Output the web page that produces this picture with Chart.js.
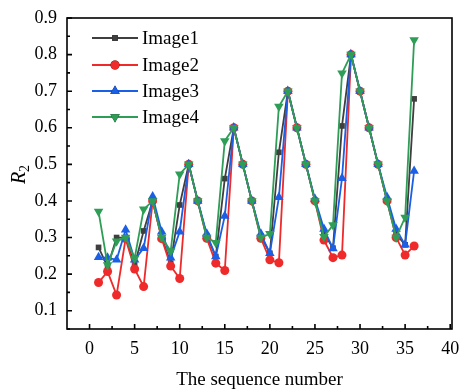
<!DOCTYPE html>
<html>
<head>
<meta charset="utf-8">
<script src="https://cdn.jsdelivr.net/npm/chart.js@4"></script>
<style>
  html, body { margin: 0; padding: 0; background: #fff; }
  #wrap { width: 460px; height: 391px; }
</style>
</head>
<body>
<div id="wrap"><canvas id="chart" width="460" height="391"></canvas></div>
<script>
// --- Data ---
const seqNumbers = Array.from({ length: 36 }, (_, i) => i + 1);
const image1 = [0.273, 0.22, 0.30, 0.30, 0.225, 0.318, 0.40, 0.30, 0.23, 0.389, 0.50, 0.40,
                0.305, 0.248, 0.461, 0.60, 0.50, 0.40, 0.304, 0.257, 0.533, 0.70, 0.60, 0.50,
                0.40, 0.312, 0.271, 0.605, 0.80, 0.70, 0.60, 0.50, 0.40, 0.31, 0.28, 0.679];
const image2 = [0.177, 0.207, 0.143, 0.297, 0.214, 0.166, 0.40, 0.297, 0.222, 0.188, 0.50, 0.40,
                0.298, 0.23, 0.21, 0.60, 0.50, 0.40, 0.298, 0.239, 0.231, 0.70, 0.60, 0.50,
                0.40, 0.293, 0.245, 0.252, 0.80, 0.70, 0.60, 0.50, 0.40, 0.30, 0.252, 0.277];
const image3 = [0.246, 0.245, 0.239, 0.321, 0.239, 0.271, 0.412, 0.316, 0.245, 0.316, 0.50, 0.40,
                0.31, 0.248, 0.359, 0.60, 0.50, 0.40, 0.31, 0.257, 0.41, 0.70, 0.60, 0.50,
                0.405, 0.323, 0.27, 0.462, 0.80, 0.70, 0.60, 0.50, 0.41, 0.323, 0.28, 0.482];
const image4 = [0.371, 0.225, 0.29, 0.30, 0.243, 0.377, 0.40, 0.30, 0.263, 0.473, 0.50, 0.40,
                0.30, 0.286, 0.564, 0.60, 0.50, 0.40, 0.30, 0.31, 0.658, 0.70, 0.60, 0.50,
                0.40, 0.302, 0.334, 0.749, 0.80, 0.70, 0.60, 0.50, 0.40, 0.30, 0.355, 0.84];

const xMajorTicks = [0, 5, 10, 15, 20, 25, 30, 35, 40];
const yMajorTicks = [0.1, 0.2, 0.3, 0.4, 0.5, 0.6, 0.7, 0.8, 0.9];
const seriesNames = ['Image1', 'Image2', 'Image3', 'Image4'];

const FONT = '"Liberation Serif", "Times New Roman", serif';
const COLORS = ['#3f3f3f', '#ee2a2a', '#1a5fe6', '#2e9e57'];
const POINT_STYLES = ['rect', 'circle', 'triangle', 'triangle'];
const POINT_ROT = [0, 0, 0, 180];
const POINT_RAD = [4, 4.5, 5.5, 5.5];

const seriesData = [image1, image2, image3, image4];

const datasets = seriesData.map((vals, i) => ({
    label: seriesNames[i],
    data: seqNumbers.map((x, j) => ({ x: x, y: vals[j] })),
    borderColor: COLORS[i],
    backgroundColor: COLORS[i],
    borderWidth: 1.8,
    pointStyle: POINT_STYLES[i],
    pointRotation: POINT_ROT[i],
    pointRadius: POINT_RAD[i],
    pointBorderWidth: 0,
    order: 4 - i
}));

// Draws the frame, inward ticks, the R2 axis title and the inset legend
const framePlugin = {
    id: 'frame',
    afterDraw(chart) {
        const ctx = chart.ctx;
        const { left, right, top, bottom } = chart.chartArea;
        const xs = chart.scales.x, ys = chart.scales.y;
        ctx.save();
        ctx.strokeStyle = '#000';
        ctx.lineWidth = 1.6;

        // ticks
        ctx.beginPath();
        xMajorTicks.forEach(v => {
            const px = xs.getPixelForValue(v);
            ctx.moveTo(px, bottom); ctx.lineTo(px, bottom - 5);
            const m = xs.getPixelForValue(v + 2.5);
            if (v + 2.5 < 40) { ctx.moveTo(m, bottom); ctx.lineTo(m, bottom - 3); }
        });
        yMajorTicks.forEach(v => {
            const py = ys.getPixelForValue(v);
            ctx.moveTo(left, py); ctx.lineTo(left + 5, py);
            const m = ys.getPixelForValue(v - 0.05);
            ctx.moveTo(left, m); ctx.lineTo(left + 3, m);
        });
        ctx.stroke();

        // frame
        ctx.strokeRect(left, top, right - left, bottom - top);

        // y-axis title: italic R with subscript 2
        ctx.translate(20, (top + bottom) / 2);
        ctx.rotate(-Math.PI / 2);
        ctx.fillStyle = '#000';
        ctx.textBaseline = 'middle';
        ctx.font = 'italic 20px ' + FONT;
        const rw = ctx.measureText('R').width;
        const total = rw + 9;
        ctx.fillText('R', -total / 2, 0);
        ctx.font = '14px ' + FONT;
        ctx.fillText('2', -total / 2 + rw, 5);
        ctx.restore();

        // legend
        ctx.save();
        ctx.font = '19px ' + FONT;
        ctx.textBaseline = 'middle';
        const rows = [38, 65, 91, 117];
        chart.data.datasets.forEach((ds, i) => {
            const y = rows[i];
            ctx.strokeStyle = ds.borderColor;
            ctx.lineWidth = 1.8;
            ctx.beginPath();
            ctx.moveTo(92, y); ctx.lineTo(138, y);
            ctx.stroke();
            Chart.helpers.drawPoint(ctx, {
                pointStyle: ds.pointStyle,
                rotation: ds.pointRotation,
                radius: ds.pointRadius,
                borderWidth: 0
            }, 115, y);
            ctx.fillStyle = ds.backgroundColor;
            ctx.fill();
            ctx.fillStyle = '#000';
            ctx.fillText(ds.label, 142, y + 1);
        });
        ctx.restore();
    }
};

new Chart(document.getElementById('chart'), {
    type: 'line',
    data: { datasets: datasets },
    options: {
        responsive: false,
        animation: false,
        layout: { padding: { top: 18, right: 8, left: 0, bottom: 0 } },
        plugins: { legend: { display: false }, tooltip: { enabled: false } },
        scales: {
            x: {
                type: 'linear',
                min: -2.5,
                max: 40.2,
                grid: { display: false, drawTicks: false },
                border: { display: false },
                afterBuildTicks: s => { s.ticks = xMajorTicks.map(v => ({ value: v })); },
                afterFit: s => {
                    s.height = 62;
                    s.paddingLeft = 0;
                    s.paddingRight = 0;
                },
                ticks: {
                    padding: 9,
                    color: '#000',
                    font: { family: FONT, size: 18 },
                    maxRotation: 0
                },
                title: {
                    display: true,
                    text: 'The sequence number',
                    color: '#000',
                    font: { family: FONT, size: 19 },
                    padding: { top: 0, bottom: 0 }
                }
            },
            y: {
                min: 0.05,
                max: 0.9,
                grid: { display: false, drawTicks: false },
                border: { display: false },
                afterBuildTicks: s => { s.ticks = yMajorTicks.map(v => ({ value: v })); },
                afterFit: s => {
                    s.width = 67;
                    s.paddingTop = 0;
                    s.paddingBottom = 0;
                },
                ticks: {
                    padding: 10,
                    color: '#000',
                    font: { family: FONT, size: 18 },
                    callback: v => v.toFixed(1)
                }
            }
        }
    },
    plugins: [framePlugin]
});
</script>
</body>
</html>
